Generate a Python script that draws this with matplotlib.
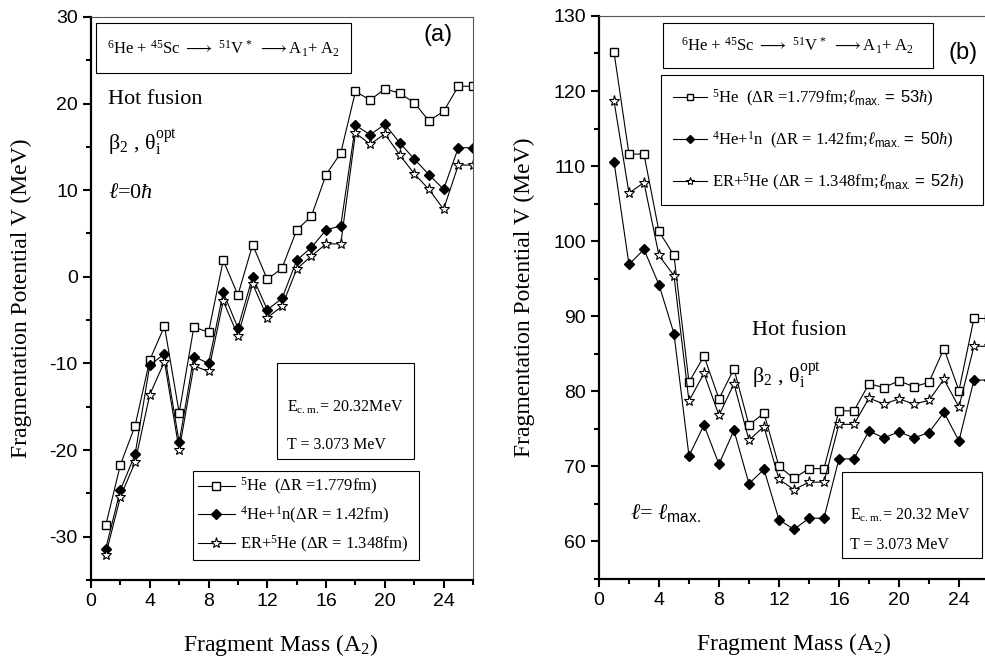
import matplotlib
matplotlib.use('Agg')
import matplotlib.pyplot as plt
from matplotlib.patches import Rectangle
from matplotlib.ticker import MultipleLocator

plt.rcParams.update({'font.family': 'Liberation Serif', 'font.size': 12,
                     'axes.unicode_minus': False,
                     'mathtext.fontset': 'custom',
                     'mathtext.rm': 'Liberation Serif',
                     'mathtext.it': 'Liberation Serif:italic',
                     'mathtext.bf': 'Liberation Serif:bold',
                     'mathtext.sf': 'Liberation Sans',
                     'mathtext.fallback': 'stix'})

A2 = list(range(1, 27))

# panel (a): l = 0 hbar
he5_a = [-28.7, -21.7, -17.2, -9.6, -5.7, -15.7, -5.8, -6.4, 1.9, -2.1, 3.7, -0.3, 1.0,
         5.4, 7.0, 11.8, 14.3, 21.4, 20.4, 21.7, 21.2, 20.1, 18.0, 19.1, 22.0, 22.0]
he4n_a = [-31.4, -24.6, -20.5, -10.2, -8.9, -19.1, -9.2, -10.0, -1.8, -5.9, 0.0, -3.8, -2.5,
          1.9, 3.4, 5.4, 5.9, 17.5, 16.4, 17.6, 15.5, 13.6, 11.8, 10.1, 14.9, 14.9]
er_he5_a = [-32.1, -25.4, -21.4, -13.6, -9.8, -20.0, -10.3, -10.9, -2.8, -6.8, -0.8, -4.7, -3.4,
            0.9, 2.4, 3.8, 3.8, 16.6, 15.3, 16.5, 14.1, 11.9, 10.1, 7.8, 12.9, 12.9]

# panel (b): l = l_max
he5_b = [125.2, 111.6, 111.6, 101.3, 98.1, 81.2, 84.7, 79.0, 83.0, 75.5, 77.1, 70.0, 68.4,
         69.7, 69.7, 77.4, 77.4, 81.0, 80.5, 81.4, 80.6, 81.2, 85.7, 80.1, 89.7, 89.7]
he4n_b = [110.6, 96.9, 98.9, 94.2, 87.7, 71.4, 75.5, 70.3, 74.8, 67.7, 69.6, 62.9, 61.6,
          63.1, 63.1, 71.0, 71.0, 74.7, 73.8, 74.6, 73.8, 74.5, 77.2, 73.4, 81.5, 81.5]
er_he5_b = [118.7, 106.4, 107.8, 98.1, 95.4, 78.7, 82.4, 76.8, 81.0, 73.5, 75.3, 68.3, 66.9,
            67.9, 67.9, 75.6, 75.6, 79.1, 78.3, 79.0, 78.3, 78.8, 81.6, 77.9, 86.0, 86.0]

labels_a = [r'$^{5}$He  ($\Delta$R =1.779fm)',
            r'$^{4}$He+$^{1}$n($\Delta$R = 1.42fm)',
            r'ER+$^{5}$He ($\Delta$R = 1.348fm)']
labels_b = [r'$^{5}$He  ($\Delta$R =1.779fm;$\ell_{\mathsf{max.}}$$\mathsf{=\ 53}\hbar$)',
            r'$^{4}$He+$^{1}$n  ($\Delta$R = 1.42fm;$\ell_{\mathsf{max.}}$$\mathsf{=\ 50}\hbar$)',
            r'ER+$^{5}$He ($\Delta$R = 1.348fm;$\ell_{\mathsf{max.}}$$\mathsf{=\ 52}\hbar$)']

reaction = r'$^{6}$He + $^{45}$Sc $\longrightarrow$ $^{51}$V$^{\,*}$ $\longrightarrow$A$_{1}$+ A$_{2}$'

fig = plt.figure(figsize=(9.85, 6.64), dpi=100)
ax1 = fig.add_axes([0.0924, 0.1265, 0.3878, 0.848])
ax2 = fig.add_axes([0.6081, 0.128, 0.3959, 0.848])


def draw(ax, ys, labels, ms):
    ax.plot(A2, ys[0], '-s', color='k', lw=0.8, mfc='white', mec='k', ms=ms[0], label=labels[0])
    ax.plot(A2, ys[1], '-D', color='k', lw=0.8, mfc='k', mec='k', ms=ms[1], label=labels[1])
    ax.plot(A2, ys[2], '-*', color='k', lw=0.8, mfc='white', mec='k', mew=0.8, ms=ms[2],
            label=labels[2])


def style(ax, ymaj, ymin):
    ax.set_xlim(0, 26)
    ax.xaxis.set_major_locator(MultipleLocator(4))
    ax.xaxis.set_minor_locator(MultipleLocator(2))
    ax.yaxis.set_major_locator(MultipleLocator(ymaj))
    ax.yaxis.set_minor_locator(MultipleLocator(ymin))
    ax.tick_params(which='both', direction='out', width=1.5, labelsize=14,
                   labelfontfamily='Liberation Sans', top=False, right=False)
    ax.tick_params(which='major', length=6)
    ax.tick_params(which='minor', length=3.5)
    for s in ['left', 'bottom']:
        ax.spines[s].set_linewidth(1.6)
    for s in ['top', 'right']:
        ax.spines[s].set_linewidth(0.8)
        ax.spines[s].set_color('#555555')
    ax.set_xlabel(r'Fragment Mass (A$_{2}$)', fontsize=17)
    ax.set_ylabel('Fragmentation Potential V (MeV)', fontsize=17)


def box(ax, x0, y0, x1, y1):
    ax.add_patch(Rectangle((x0, y0), x1 - x0, y1 - y0, transform=ax.transAxes,
                           fill=False, ec='k', lw=0.8, zorder=5))


# ---- panel (a)
draw(ax1, [he5_a, he4n_a, er_he5_a], labels_a, [6, 5.5, 8])
style(ax1, 10, 5)
ax1.set_ylim(-35, 30)
ax1.xaxis.set_label_coords(0.497, -0.092)
ax1.yaxis.set_label_coords(-0.155, 0.5)

box(ax1, 0.013, 0.9, 0.681, 0.989)
ax1.text(0.347, 0.943, reaction, transform=ax1.transAxes, ha='center', va='center', fontsize=12)
ax1.text(0.908, 0.968, '(a)', transform=ax1.transAxes, ha='center', va='center',
         fontsize=17, family='Liberation Sans')
ax1.text(0.045, 0.853, 'Hot fusion', transform=ax1.transAxes, va='center', fontsize=16)
ax1.text(0.045, 0.776, r'$\mathrm{\beta}_{2}$ , $\mathrm{\theta}_{\mathrm{i}}^{\mathrm{opt}}$',
         transform=ax1.transAxes, va='center', fontsize=16)
ax1.text(0.045, 0.687, r'$\ell$=0$\hbar$', transform=ax1.transAxes, va='center', fontsize=16)

box(ax1, 0.487, 0.215, 0.846, 0.385)
ax1.text(0.513, 0.306, r'E$_{\mathrm{c.m.}}$= 20.32MeV', transform=ax1.transAxes,
         va='center', fontsize=11.5)
ax1.text(0.513, 0.240, 'T = 3.073 MeV', transform=ax1.transAxes, va='center', fontsize=11.5)

leg1 = ax1.legend(loc='lower left', bbox_to_anchor=(0.267, 0.036, 0.592, 0.17), mode='expand',
                  borderaxespad=0, fontsize=12, handlelength=2.2, handletextpad=0.3,
                  labelspacing=0.45, borderpad=0.3, fancybox=False, edgecolor='k', framealpha=1)
leg1.get_frame().set_linewidth(0.8)

# ---- panel (b)
draw(ax2, [he5_b, he4n_b, er_he5_b], labels_b, [6, 5.5, 8])
style(ax2, 10, 5)
ax2.set_ylim(55, 130)
ax2.xaxis.set_label_coords(0.5, -0.092)
ax2.yaxis.set_label_coords(-0.164, 0.5)

box(ax2, 0.164, 0.908, 0.856, 0.988)
ax2.text(0.51, 0.946, reaction, transform=ax2.transAxes, ha='center', va='center', fontsize=12)
ax2.text(0.933, 0.934, '(b)', transform=ax2.transAxes, ha='center', va='center',
         fontsize=17, family='Liberation Sans')
ax2.text(0.392, 0.442, 'Hot fusion', transform=ax2.transAxes, va='center', fontsize=16)
ax2.text(0.392, 0.362, r'$\mathrm{\beta}_{2}$ , $\mathrm{\theta}_{\mathrm{i}}^{\mathrm{opt}}$',
         transform=ax2.transAxes, va='center', fontsize=16)
ax2.text(0.079, 0.117, r'$\ell$= $\ell_{\mathsf{max.}}$', transform=ax2.transAxes,
         va='center', fontsize=16)

box(ax2, 0.623, 0.037, 0.982, 0.190)
ax2.text(0.644, 0.114, r'E$_{\mathrm{c.m.}}$= 20.32 MeV', transform=ax2.transAxes,
         va='center', fontsize=11.5)
ax2.text(0.644, 0.060, 'T = 3.073 MeV', transform=ax2.transAxes, va='center', fontsize=11.5)

leg2 = ax2.legend(loc='upper left', bbox_to_anchor=(0.159, 0.677, 0.826, 0.218), mode='expand',
                  borderaxespad=0, fontsize=12, handlelength=2.0, handletextpad=0.3,
                  labelspacing=1.25, borderpad=0.75, fancybox=False, edgecolor='k',
                  framealpha=1, markerscale=0.75)
leg2.get_frame().set_linewidth(0.8)

fig.savefig('out.png', dpi=100)
